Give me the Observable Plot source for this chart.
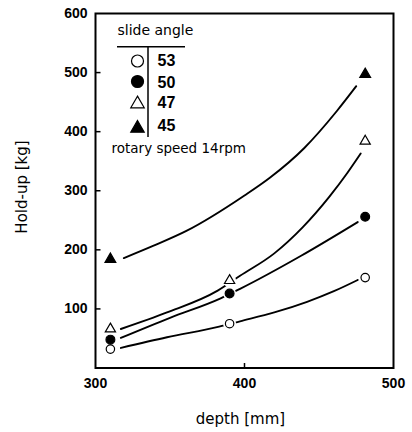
<!DOCTYPE html>
<html>
<head>
<meta charset="utf-8">
<script src="https://cdn.jsdelivr.net/npm/d3@7"></script>
<script src="https://cdn.jsdelivr.net/npm/@observablehq/plot@0.6"></script>
<style>
  html, body { margin: 0; padding: 0; background: #fff; }
  #chart { width: 412px; height: 432px; }
</style>
</head>
<body>
<div id="chart"></div>
<script>
// ---- data ----
const xTicks = [300, 400, 500];
const yTicks = [100, 200, 300, 400, 500, 600];
const innerXTicks = [400];
const innerYTicks = [100, 200, 300, 400, 500];

const angles = ["53", "50", "47", "45"];

// measured points
const depth53 = [310, 390, 481];
const holdup53 = [32, 75, 153];
const depth50 = [310, 390, 481];
const holdup50 = [48, 126, 256];
const depth47 = [310, 390, 481];
const holdup47 = [66, 148, 384];
const depth45 = [310, 481];
const holdup45 = [184, 497];

// hand-drawn fitted curves
const curveDepth53 = [317, 348, 383, 397, 420, 442, 460, 476];
const curveHoldup53 = [34, 52, 70, 79, 94, 112, 130, 149];
const curveDepth50 = [317, 350, 384, 397, 438, 476];
const curveHoldup50 = [51, 85, 118, 134, 190, 247];
const curveDepth47 = [317, 348, 382, 397, 420, 439, 457, 469, 478];
const curveHoldup47 = [66, 94, 131, 156, 194, 238, 290, 330, 363];
const curveDepth45 = [319, 339, 361, 400, 417, 440, 462, 475];
const curveHoldup45 = [186, 207, 232, 292, 322, 372, 435, 477];

const legendTitle = "slide angle";
const noteText = "rotary speed 14rpm";
const xLabel = "depth [mm]";
const yLabel = "Hold-up [kg]";

// ---- build tables ----
const zip = (xs, ys) => xs.map((x, i) => ({depth: x, holdup: ys[i]}));
const series = [
  {angle: angles[0], symbol: "circle", fill: "white", r: 4.2, lr: 6, pts: zip(depth53, holdup53), curve: zip(curveDepth53, curveHoldup53)},
  {angle: angles[1], symbol: "circle", fill: "black", r: 4.4, lr: 6, pts: zip(depth50, holdup50), curve: zip(curveDepth50, curveHoldup50)},
  {angle: angles[2], symbol: "triangle", fill: "white", r: 3.8, lr: 5, pts: zip(depth47, holdup47), curve: zip(curveDepth47, curveHoldup47)},
  {angle: angles[3], symbol: "triangle", fill: "black", r: 4.0, lr: 5, pts: zip(depth45, holdup45), curve: zip(curveDepth45, curveHoldup45)}
];

const tickRight = {draw(ctx) { ctx.moveTo(0, 0); ctx.lineTo(5, 0); }};
const tickUp = {draw(ctx) { ctx.moveTo(0, 0); ctx.lineTo(0, -5); }};

const lineFont = "DejaVu Sans";

const marks = [
  Plot.frame({stroke: "black", strokeWidth: 2}),
  Plot.dot(innerYTicks, {y: d => d, frameAnchor: "left", symbol: tickRight, stroke: "black", strokeWidth: 1.5, fill: "none"}),
  Plot.dot(innerXTicks, {x: d => d, frameAnchor: "bottom", symbol: tickUp, stroke: "black", strokeWidth: 1.5, fill: "none"}),
];

for (const s of series) {
  marks.push(Plot.line(s.curve, {x: "depth", y: "holdup", curve: "monotone-x", stroke: "black", strokeWidth: 1.9}));
}
for (const s of series) {
  marks.push(Plot.dot(s.pts, {x: "depth", y: "holdup", r: 6.5, fill: "white", stroke: "none"}));
}
for (const s of series) {
  marks.push(Plot.dot(s.pts, {x: "depth", y: "holdup", symbol: s.symbol, r: s.r, fill: s.fill, stroke: "black", strokeWidth: 1.2}));
}

// legend (inside the frame, top-left)
const legendSymbolDy = [47.5, 68, 90.4, 114.8];
const legendTextDy = [47.6, 69.2, 89.2, 112.6];
series.forEach((s, i) => {
  marks.push(Plot.dot([s.angle], {frameAnchor: "top-left", dx: 42, dy: legendSymbolDy[i], symbol: s.symbol, r: s.lr, fill: s.fill, stroke: "black", strokeWidth: 1.2}));
  marks.push(Plot.text([s.angle], {text: d => d, frameAnchor: "top-left", dx: 62, dy: legendTextDy[i], textAnchor: "start", lineAnchor: "middle", fontSize: 16, fontWeight: "bold", fontFamily: "Liberation Sans", fill: "black"}));
});
marks.push(Plot.text([legendTitle], {text: d => d, frameAnchor: "top-left", dx: 22, dy: 17.5, textAnchor: "start", lineAnchor: "middle", fontSize: 14, fontWeight: "normal", fontFamily: lineFont, letterSpacing: 0.8, fill: "black"}));
marks.push(Plot.text([noteText], {text: d => d, frameAnchor: "top-left", dx: 16, dy: 135.2, textAnchor: "start", lineAnchor: "middle", fontSize: 13.5, fontWeight: "normal", fontFamily: lineFont, letterSpacing: 1.35, fill: "black"}));
marks.push((index, scales, values, dims) => {
  const g = d3.create("svg:g").attr("stroke", "black").attr("stroke-width", 1.5);
  const x0 = dims.marginLeft, y0 = dims.marginTop;
  g.append("line").attr("x1", x0 + 22).attr("x2", x0 + 90).attr("y1", y0 + 33.7).attr("y2", y0 + 33.7);
  g.append("line").attr("x1", x0 + 53).attr("x2", x0 + 53).attr("y1", y0 + 33.7).attr("y2", y0 + 124);
  return g.node();
});

// axis titles
marks.push(Plot.text([yLabel], {text: d => d, frameAnchor: "left", dx: -73.8, dy: -3.75, rotate: -90, textAnchor: "middle", lineAnchor: "middle", fontSize: 15, fontWeight: "normal", fontFamily: lineFont, letterSpacing: 1.3, fill: "black"}));
marks.push(Plot.text([xLabel], {text: d => d, frameAnchor: "bottom", dx: -4, dy: 51.2, textAnchor: "middle", lineAnchor: "middle", fontSize: 15, fontWeight: "normal", fontFamily: lineFont, letterSpacing: 1.3, fill: "black"}));

const chart = Plot.plot({
  width: 412,
  height: 432,
  marginLeft: 95,
  marginRight: 19,
  marginTop: 13,
  marginBottom: 64.5,
  style: {fontFamily: "Liberation Sans", fontSize: "14px", fontWeight: "bold", color: "black", background: "white"},
  x: {domain: [300, 500], ticks: xTicks, tickSize: 0, tickPadding: 10, label: null},
  y: {domain: [0, 600], ticks: yTicks, tickSize: 0, tickPadding: 8, label: null},
  marks
});
document.getElementById("chart").appendChild(chart);
</script>
</body>
</html>
